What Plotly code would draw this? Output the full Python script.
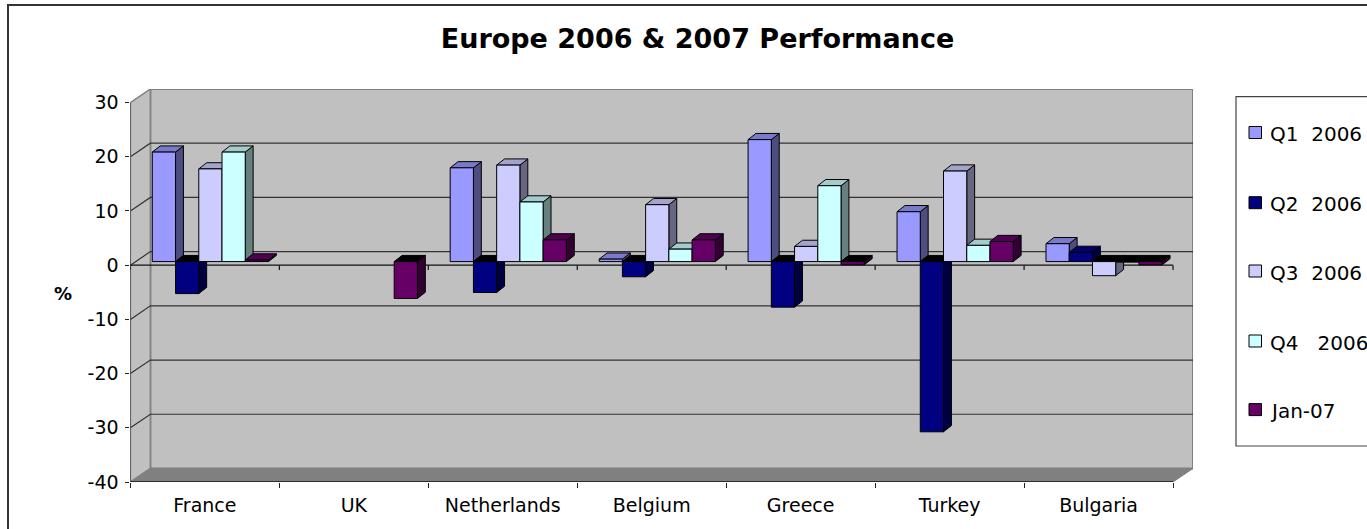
import plotly.graph_objects as go

# Quarterly performance by country, in percent
COUNTRIES = ["France", "UK", "Netherlands", "Belgium", "Greece", "Turkey", "Bulgaria"]
SERIES = ["Q1  2006", "Q2  2006", "Q3  2006", "Q4   2006", "Jan-07"]
Q1_2006 = [20.2, None, 17.3, 0.45, 22.5, 9.2, 3.3]
Q2_2006 = [-5.9, None, -5.7, -2.8, -8.4, -31.4, 1.7]
Q3_2006 = [17.1, None, 17.8, 10.5, 2.8, 16.7, -2.6]
Q4_2006 = [20.2, None, 11.0, 2.3, 14.0, 3.0, -0.1]
JAN_2007 = [0.3, -6.8, 4.0, 4.0, -0.6, 3.7, -0.6]
VALUES = [Q1_2006, Q2_2006, Q3_2006, Q4_2006, JAN_2007]
Y_TICKS = [-40, -30, -20, -10, 0, 10, 20, 30]

FRONT = ["#9999FF", "#000080", "#CCCCFF", "#CCFFFF", "#660066"]
TOP = ["#7A7ACC", "#000066", "#A3A3CC", "#A3CCCC", "#520052"]
SIDE = ["#4D4D80", "#000040", "#666680", "#668080", "#330033"]

W, H = 1367, 529
FONT = "DejaVu Sans"

# Pixel frame of the front plane of the 3-D box
LEFT, RIGHT_FRONT, RIGHT_BACK = 130.4, 1173.3, 1193.0
TOP_BACK, BOTTOM = 89.0, 482.0

# Oblique depth, in axis units
WALL_DX, WALL_DY = 0.134, 2.5       # front plane to back wall
BAR_DX, BAR_DY = 0.037, 0.66        # front plane to bar front
DEPTH_DX, DEPTH_DY = 0.053, 1.14    # depth of one bar
BAR_GAP = 0.22
BAR_W = (1 - BAR_GAP) / len(SERIES)

X_RANGE = [0, 7 + WALL_DX]
Y_RANGE = [-40, 30 + WALL_DY]
N = len(COUNTRIES)

fig = go.Figure()


def poly(xs, ys, fill, line="black", width=1):
    fig.add_trace(go.Scatter(
        x=list(xs) + [xs[0]], y=list(ys) + [ys[0]], mode="lines", fill="toself",
        fillcolor=fill, line=dict(color=line, width=width), hoverinfo="skip",
        showlegend=False, cliponaxis=False, xaxis="x", yaxis="y"))


def path(xs, ys, color, width=1):
    fig.add_trace(go.Scatter(
        x=xs, y=ys, mode="lines", line=dict(color=color, width=width),
        hoverinfo="skip", showlegend=False, cliponaxis=False, xaxis="x", yaxis="y"))


# Box walls and floor
y_lo, y_hi = Y_RANGE
poly([WALL_DX, 7 + WALL_DX, 7 + WALL_DX, WALL_DX], [y_lo + WALL_DY, y_lo + WALL_DY, y_hi, y_hi],
     "#C0C0C0", "#808080", 2)
poly([0, WALL_DX, WALL_DX, 0], [-40, -40 + WALL_DY, y_hi, 30], "#C0C0C0", "#808080", 1.5)
poly([0, 7, 7 + WALL_DX, WALL_DX], [-40, -40, -40 + WALL_DY, -40 + WALL_DY], "#808080", "#808080", 1)

# Gridlines on the back wall, carried round the side wall
for v in Y_TICKS[1:-1]:
    path([0, WALL_DX, 7 + WALL_DX], [v, v + WALL_DY, v + WALL_DY], "#333333", 1.2)

# Front axis lines; the zero line carries its own category ticks
path([0, 0], [-40, 30], "#333333", 1.2)
path([0, 7], [-40, -40], "#111111", 1.5)
zero_x, zero_y = [0, 7], [0, 0]
for i in range(N + 1):
    zero_x += [None, i, i]
    zero_y += [None, 0, -0.9]
path(zero_x, zero_y, "#111111", 1.2)

# Side and top faces, left to right, under the bar fronts
for i in range(N):
    for j, series in enumerate(VALUES):
        v = series[i]
        if v is None:
            continue
        x0 = i + BAR_GAP / 2 + j * BAR_W + BAR_DX
        x1 = x0 + BAR_W
        hi = max(v, 0) + BAR_DY
        lo = min(v, 0) + BAR_DY
        poly([x1, x1 + DEPTH_DX, x1 + DEPTH_DX, x1], [lo, lo + DEPTH_DY, hi + DEPTH_DY, hi], SIDE[j])
        poly([x0, x1, x1 + DEPTH_DX, x0 + DEPTH_DX], [hi, hi, hi + DEPTH_DY, hi + DEPTH_DY],
             "black" if v < 0 else TOP[j])

# Bar fronts on an overlay whose scales are offset by the bars' depth in the box
for j, series in enumerate(VALUES):
    fig.add_trace(go.Bar(
        x=COUNTRIES, y=series, name=SERIES[j].replace("  ", " "), xaxis="x2", yaxis="y2",
        marker=dict(color=FRONT[j], line=dict(color="black", width=1)),
        showlegend=False))

shapes = [
    # Chart frame, running off the page on the right and bottom
    dict(type="rect", xref="paper", yref="paper", x0=8 / W, x1=1.05, y0=-0.05, y1=1 - 5 / H,
         line=dict(color="#333333", width=2), layer="below"),
    # Legend box
    dict(type="rect", xref="paper", yref="paper", x0=1236 / W, x1=1.05, y0=1 - 446 / H, y1=1 - 96.7 / H,
         line=dict(color="#444444", width=1.2)),
]
annotations = [
    dict(text="<b>%</b>", x=63 / W, y=1 - 293 / H, xref="paper", yref="paper", showarrow=False,
         xanchor="center", yanchor="middle", font=dict(family=FONT, size=18, color="black")),
]

# Legend entries
SWATCH_Y = [132.5, 202.7, 271, 341, 409.6]
for name, color, ly in zip(SERIES, FRONT, SWATCH_Y):
    shapes.append(dict(type="rect", xref="paper", yref="paper",
                       x0=1249 / W, x1=1261.5 / W, y0=1 - (ly + 6) / H, y1=1 - (ly - 6) / H,
                       fillcolor=color, line=dict(color="black", width=1)))
    annotations.append(dict(text=name.replace(" ", "\u00a0"),
                            x=1268 / W, y=1 - (ly + 1.5) / H, xref="paper", yref="paper",
                            showarrow=False, xanchor="left", yanchor="middle", align="left",
                            font=dict(family=FONT, size=20, color="black")))

x_domain = [LEFT / W, RIGHT_BACK / W]
y_domain = [1 - BOTTOM / H, 1 - TOP_BACK / H]

fig.update_layout(
    width=W, height=H, autosize=False, margin=dict(l=0, r=0, t=0, b=0),
    paper_bgcolor="white", plot_bgcolor="rgba(0,0,0,0)",
    barmode="group", bargap=BAR_GAP, bargroupgap=0,
    title=dict(text="<b>Europe 2006 &amp; 2007 Performance</b>", x=697.5 / W, xanchor="center",
               y=1 - 39 / H, yanchor="middle", font=dict(family=FONT, size=27, color="black")),
    shapes=shapes, annotations=annotations,
    xaxis=dict(domain=x_domain, range=X_RANGE, tickmode="array", automargin=False,
               tickvals=[i + 0.5 for i in range(N)], ticktext=COUNTRIES, ticks="", showgrid=False,
               zeroline=False, showline=False, ticklabelstandoff=10,
               tickfont=dict(family=FONT, size=19, color="black"),
               minor=dict(tickmode="array", tickvals=list(range(N + 1)), ticks="outside",
                          ticklen=5, tickcolor="#222222", tickwidth=1, showgrid=False)),
    yaxis=dict(domain=y_domain, range=Y_RANGE, tickmode="array", tickvals=Y_TICKS,
               ticktext=[str(v) for v in Y_TICKS], automargin=False,
               ticks="outside", ticklen=4, tickcolor="#222222", showgrid=False,
               zeroline=False, showline=False, ticklabelstandoff=3,
               tickfont=dict(family=FONT, size=19, color="black")),
    xaxis2=dict(domain=x_domain, type="category", categoryorder="array", categoryarray=COUNTRIES,
                range=[-0.5 - BAR_DX, N - 0.5 + WALL_DX - BAR_DX], overlaying="x", visible=False),
    yaxis2=dict(domain=y_domain, range=[y_lo - BAR_DY, y_hi - BAR_DY], overlaying="y", visible=False),
)

fig.write_html("out.html", config=dict(displayModeBar=False))
